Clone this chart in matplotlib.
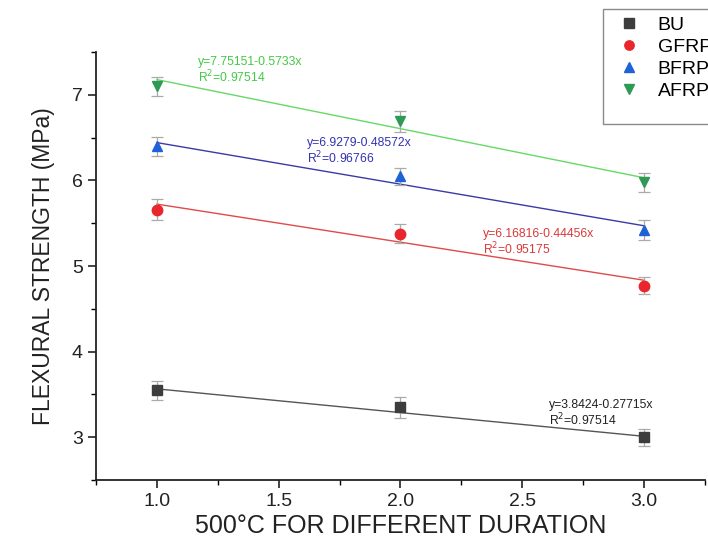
import numpy as np
import matplotlib
matplotlib.use("Agg")
import matplotlib.pyplot as plt
from matplotlib.patches import Rectangle
from matplotlib.ticker import MultipleLocator, FormatStrFormatter

plt.rcParams['font.family'] = ['Liberation Sans', 'DejaVu Sans']

duration = [1.0, 2.0, 3.0]
series_names = ["BU", "GFRP", "BFRP", "AFRP"]
bu = [3.55, 3.35, 3.00]
gfrp = [5.66, 5.38, 4.77]
bfrp = [6.40, 6.05, 5.42]
afrp = [7.10, 6.69, 5.98]
bu_err = [0.11, 0.12, 0.10]
gfrp_err = [0.12, 0.11, 0.10]
bfrp_err = [0.11, 0.10, 0.12]
afrp_err = [0.11, 0.12, 0.11]

# linear fits: intercept, slope, R^2
fit_intercept = [3.8424, 6.16816, 6.9279, 7.75151]
fit_slope = [-0.27715, -0.44456, -0.48572, -0.5733]
fit_r2 = ["0.97514", "0.95175", "0.96766", "0.97514"]
fit_eq = ["y=3.8424-0.27715x", "y=6.16816-0.44456x",
          "y=6.9279-0.48572x", "y=7.75151-0.5733x"]

marker_colors = ["#3d3d3d", "#e8262b", "#1f62d8", "#2e9a55"]
line_colors = ["#555555", "#e04a4a", "#3a3aa8", "#66d966"]
text_colors = ["#222222", "#d83a3a", "#3333b0", "#44c944"]
markers = ["s", "o", "^", "v"]
label_pos = [(2.61, 3.34), (2.34, 5.34), (1.615, 6.40), (1.17, 7.35)]

values = [bu, gfrp, bfrp, afrp]
errors = [bu_err, gfrp_err, bfrp_err, afrp_err]

fig = plt.figure(figsize=(7.08, 5.48), dpi=100)
ax = fig.add_axes([0.1356, 0.124, 0.860, 0.781])

handles = []
for i, name in enumerate(series_names):
    x = np.array(duration)
    xf = np.linspace(1.0, 3.0, 50)
    ax.plot(xf, fit_intercept[i] + fit_slope[i] * xf, color=line_colors[i], lw=1.0, zorder=2)
    ax.errorbar(x, values[i], yerr=errors[i], fmt="none", ecolor="#aaaaaa",
                elinewidth=0.9, capsize=4, capthick=0.9, zorder=3)
    h, = ax.plot(x, values[i], linestyle="none", marker=markers[i], markersize=7.5,
                 color=marker_colors[i], zorder=4, label=name)
    handles.append(h)
    tx, ty = label_pos[i]
    ax.text(tx, ty, fit_eq[i], color=text_colors[i], fontsize=8.8, va="baseline")
    ax.text(tx, ty - 0.205, "R$^2$=" + fit_r2[i], color=text_colors[i], fontsize=8.8,
            va="baseline")

ax.set_xlim(0.75, 3.25)
ax.set_ylim(2.5, 7.5)
ax.xaxis.set_major_locator(MultipleLocator(0.5))
ax.xaxis.set_minor_locator(MultipleLocator(0.25))
ax.yaxis.set_major_locator(MultipleLocator(1))
ax.yaxis.set_minor_locator(MultipleLocator(0.5))
ax.tick_params(which="major", direction="out", length=6, width=1.2, labelsize=14,
               colors="#222222")
ax.tick_params(which="minor", direction="out", length=3.5, width=1.0)
ax.xaxis.set_major_formatter(FormatStrFormatter("%.1f"))
for s in ["top", "right"]:
    ax.spines[s].set_visible(False)
for s in ["left", "bottom"]:
    ax.spines[s].set_linewidth(1.3)
    ax.spines[s].set_color("#222222")

ax.set_xlabel("500°C FOR DIFFERENT DURATION", fontsize=18, color="#222222", labelpad=3)
ax.set_ylabel("FLEXURAL STRENGTH (MPa)", fontsize=16.5, color="#222222", labelpad=12)

# legend entries without frame, boxed by a taller rectangle
leg = fig.legend(handles=handles, labels=series_names, loc="upper left",
                 bbox_to_anchor=(0.8644, 0.982), fontsize=14, frameon=False,
                 handlelength=1.0, handletextpad=1.0, labelspacing=0.22,
                 borderpad=0.35, borderaxespad=0, markerscale=0.9)
fig.add_artist(Rectangle((603 / 708, 1 - 124 / 548), 120 / 708, 115 / 548,
                         transform=fig.transFigure, fill=False,
                         edgecolor="#8a8a8a", linewidth=1.0))

fig.savefig("out.png", dpi=100)
